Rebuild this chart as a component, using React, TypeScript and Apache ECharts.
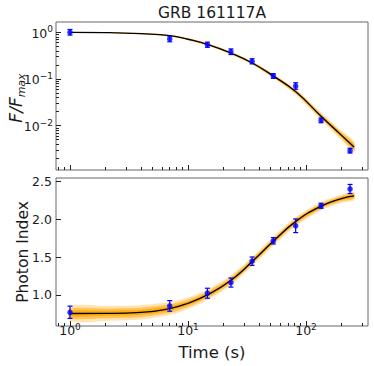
import React, { useEffect, useRef } from 'react';
import * as echarts from 'echarts';

// ---- Data ----
const times = [1.0, 7.0, 14.6, 23.1, 34.9, 52.8, 81.7, 134, 236];
const flux = [1.0, 0.719, 0.542, 0.384, 0.239, 0.116, 0.0708, 0.013, 0.00292];
const fluxErrDex = [0.06, 0.06, 0.055, 0.06, 0.055, 0.05, 0.07, 0.05, 0.05];
const photonIndex = [0.771, 0.855, 1.022, 1.163, 1.445, 1.714, 1.912, 2.176, 2.397];
const photonIndexErr = [0.081, 0.07, 0.066, 0.06, 0.055, 0.042, 0.09, 0.033, 0.06];

const modelTimes = [1, 2, 4, 7, 10, 15, 23, 35, 53, 82, 134, 200, 255];
const modelFlux = [1.0, 0.985, 0.933, 0.85, 0.71, 0.54, 0.36, 0.22, 0.115, 0.053, 0.016, 0.0062, 0.0035];
const modelFluxBandDex = [0.01, 0.012, 0.015, 0.02, 0.025, 0.03, 0.035, 0.04, 0.05, 0.06, 0.08, 0.1, 0.12];
const modelIndex = [0.755, 0.757, 0.77, 0.82, 0.89, 1.01, 1.19, 1.44, 1.71, 1.97, 2.17, 2.27, 2.305];
const modelIndexBand = [0.1, 0.1, 0.095, 0.085, 0.075, 0.07, 0.065, 0.06, 0.06, 0.06, 0.055, 0.055, 0.055];

const xMajorTicks = [1, 10, 100];
const xMinorTicks = [0.8, 0.9, 2, 3, 4, 5, 6, 7, 8, 9, 20, 30, 40, 50, 60, 70, 80, 90, 200, 300];
const fluxMajorTicks = [1, 0.1, 0.01];
const fluxMinorTicks = [0.002, 0.003, 0.004, 0.005, 0.006, 0.007, 0.008, 0.009, 0.02, 0.03, 0.04, 0.05, 0.06, 0.07, 0.08, 0.09, 0.2, 0.3, 0.4, 0.5, 0.6, 0.7, 0.8, 0.9];
const indexTicks = [1.0, 1.5, 2.0, 2.5];

const title = 'GRB 161117A';
const xName = 'Time (s)';
const yIndexName = 'Photon Index';

// axis ranges (x and flux in log10 space)
const X_MIN = -0.1186;
const X_MAX = 2.525;
const FLUX_MIN = -2.949;
const FLUX_MAX = 0.2206;
const IDX_MIN = 0.59;
const IDX_MAX = 2.542;

const FONT = 'DejaVu Sans';
const TEXT = '#1a1a1a';
const TICK = '#222';
const ORANGE = '#FFA500';
const BLUE = '#0000FF';

const lg = (v: number) => Math.log10(v);

const powRich = {
  b: { fontSize: 12.5, lineHeight: 15, verticalAlign: 'bottom', color: TEXT, fontFamily: FONT },
  s: { fontSize: 9, lineHeight: 8, verticalAlign: 'top', color: TEXT, fontFamily: FONT },
};
const powFormatter = (v: number) => {
  const n = Math.round(v);
  return `{b|10}{s|${String(n).replace('-', '\u2212')}}`;
};

function tickAxis(kind: 'x' | 'y', gridIndex: number, min: number, max: number, ticks: number[], len: number, label: any) {
  return {
    type: 'value',
    gridIndex,
    min,
    max,
    position: kind === 'x' ? 'bottom' : 'left',
    axisLine: { show: false, onZero: false },
    splitLine: { show: false },
    axisTick: { show: true, inside: true, length: len, customValues: ticks, lineStyle: { color: TICK, width: 1 } },
    axisLabel: label ? { show: true, customValues: ticks, ...label } : { show: false },
  };
}

function bandSeries(xAxisIndex: number, yAxisIndex: number, xs: number[], ys: number[], halves: number[], factor: number, opacity: number) {
  return {
    type: 'custom',
    xAxisIndex,
    yAxisIndex,
    silent: true,
    clip: true,
    z: 1,
    data: [[xs[0], ys[0]]],
    renderItem: (_p: any, api: any) => {
      const upper = xs.map((x, i) => api.coord([x, ys[i] + halves[i] * factor]));
      const lower = xs.map((x, i) => api.coord([x, ys[i] - halves[i] * factor])).reverse();
      return {
        type: 'polygon',
        shape: { points: upper.concat(lower), smooth: 0.25 },
        style: { fill: ORANGE, opacity },
      };
    },
  };
}

function errorSeries(xAxisIndex: number, yAxisIndex: number, data: number[][]) {
  return {
    type: 'custom',
    xAxisIndex,
    yAxisIndex,
    silent: true,
    z: 4,
    data,
    encode: { x: 0, y: [1, 2, 3] },
    renderItem: (_p: any, api: any) => {
      const x = api.value(0);
      const a = api.coord([x, api.value(2)]);
      const b = api.coord([x, api.value(3)]);
      const c = 2.5;
      const st = { stroke: BLUE, lineWidth: 1.2 };
      return {
        type: 'group',
        children: [
          { type: 'line', shape: { x1: a[0], y1: a[1], x2: b[0], y2: b[1] }, style: st },
          { type: 'line', shape: { x1: a[0] - c, y1: a[1], x2: a[0] + c, y2: a[1] }, style: st },
          { type: 'line', shape: { x1: b[0] - c, y1: b[1], x2: b[0] + c, y2: b[1] }, style: st },
        ],
      };
    },
  };
}

export default function App() {
  const ref = useRef<HTMLDivElement>(null);

  useEffect(() => {
    if (!ref.current) return;
    const chart = echarts.init(ref.current, null, { renderer: 'svg' });

    const lt = times.map(lg);
    const mlt = modelTimes.map(lg);
    const mlf = modelFlux.map(lg);

    const bandLayers = [
      [1.0, 0.3],
      [0.65, 0.5],
      [0.35, 0.8],
    ];

    const option: any = {
      animation: false,
      backgroundColor: '#fff',
      textStyle: { fontFamily: FONT },
      grid: [
        { left: 56, top: 22, width: 312, height: 148, show: true, borderColor: '#666', borderWidth: 1, backgroundColor: 'transparent', containLabel: false, outerBoundsMode: 'none' },
        { left: 56, top: 178, width: 312, height: 148, show: true, borderColor: '#666', borderWidth: 1, backgroundColor: 'transparent', containLabel: false, outerBoundsMode: 'none' },
      ],
      xAxis: [
        tickAxis('x', 0, X_MIN, X_MAX, xMajorTicks.map(lg), 5, null),
        tickAxis('x', 0, X_MIN, X_MAX, xMinorTicks.map(lg), 3, null),
        tickAxis('x', 1, X_MIN, X_MAX, xMajorTicks.map(lg), 5, { margin: -4, formatter: powFormatter, rich: powRich }),
        tickAxis('x', 1, X_MIN, X_MAX, xMinorTicks.map(lg), 3, null),
      ],
      yAxis: [
        tickAxis('y', 0, FLUX_MIN, FLUX_MAX, fluxMajorTicks.map(lg), 5, { margin: 3, formatter: powFormatter, rich: powRich }),
        tickAxis('y', 0, FLUX_MIN, FLUX_MAX, fluxMinorTicks.map(lg), 3, null),
        tickAxis('y', 1, IDX_MIN, IDX_MAX, indexTicks, 5, { margin: 4, fontSize: 12.5, color: TEXT, fontFamily: FONT, formatter: (v: number) => v.toFixed(1) }),
      ],
      graphic: [
        { type: 'text', x: 212, y: 13, style: { text: title, fontSize: 15.5, fontFamily: FONT, fill: TEXT, align: 'center', verticalAlign: 'middle' } },
        { type: 'text', x: 212, y: 352, style: { text: xName, fontSize: 16.5, fontFamily: FONT, fill: TEXT, align: 'center', verticalAlign: 'middle' } },
        { type: 'text', x: 23, y: 252, rotation: Math.PI / 2, style: { text: yIndexName, fontSize: 15.5, fontFamily: FONT, fill: TEXT, align: 'center', verticalAlign: 'middle' } },
        {
          type: 'text', x: 17, y: 98, rotation: Math.PI / 2,
          style: {
            text: '{i|F/F}{s|max}', align: 'center', verticalAlign: 'middle',
            rich: {
              i: { fontSize: 17, fontStyle: 'italic', fontFamily: FONT, lineHeight: 18, verticalAlign: 'top', fill: TEXT, color: TEXT },
              s: { fontSize: 11, fontStyle: 'italic', fontFamily: FONT, lineHeight: 20, verticalAlign: 'bottom', fill: TEXT, color: TEXT },
            },
          },
        },
      ],
      series: [
        ...bandLayers.map(([f, o]) => bandSeries(0, 0, mlt, mlf, modelFluxBandDex, f, o)),
        ...bandLayers.map(([f, o]) => bandSeries(2, 2, mlt, modelIndex, modelIndexBand, f, o)),
        {
          type: 'line', xAxisIndex: 0, yAxisIndex: 0, smooth: true, showSymbol: false, silent: true, z: 3,
          lineStyle: { color: '#000', width: 1.3 },
          data: mlt.map((x, i) => [x, mlf[i]]),
        },
        {
          type: 'line', xAxisIndex: 2, yAxisIndex: 2, smooth: true, showSymbol: false, silent: true, z: 3,
          lineStyle: { color: '#000', width: 1.3 },
          data: mlt.map((x, i) => [x, modelIndex[i]]),
        },
        errorSeries(0, 0, lt.map((x, i) => [x, lg(flux[i]), lg(flux[i]) - fluxErrDex[i], lg(flux[i]) + fluxErrDex[i]])),
        errorSeries(2, 2, lt.map((x, i) => [x, photonIndex[i], photonIndex[i] - photonIndexErr[i], photonIndex[i] + photonIndexErr[i]])),
        {
          type: 'scatter', xAxisIndex: 0, yAxisIndex: 0, symbol: 'circle', symbolSize: 5.5, z: 5, silent: true,
          itemStyle: { color: BLUE },
          data: lt.map((x, i) => [x, lg(flux[i])]),
        },
        {
          type: 'scatter', xAxisIndex: 2, yAxisIndex: 2, symbol: 'circle', symbolSize: 5.5, z: 5, silent: true,
          itemStyle: { color: BLUE },
          data: lt.map((x, i) => [x, photonIndex[i]]),
        },
      ],
    };

    chart.setOption(option);
    return () => chart.dispose();
  }, []);

  return <div ref={ref} style={{ position: 'absolute', left: 0, top: 0, width: 374, height: 366 }} />;
}
